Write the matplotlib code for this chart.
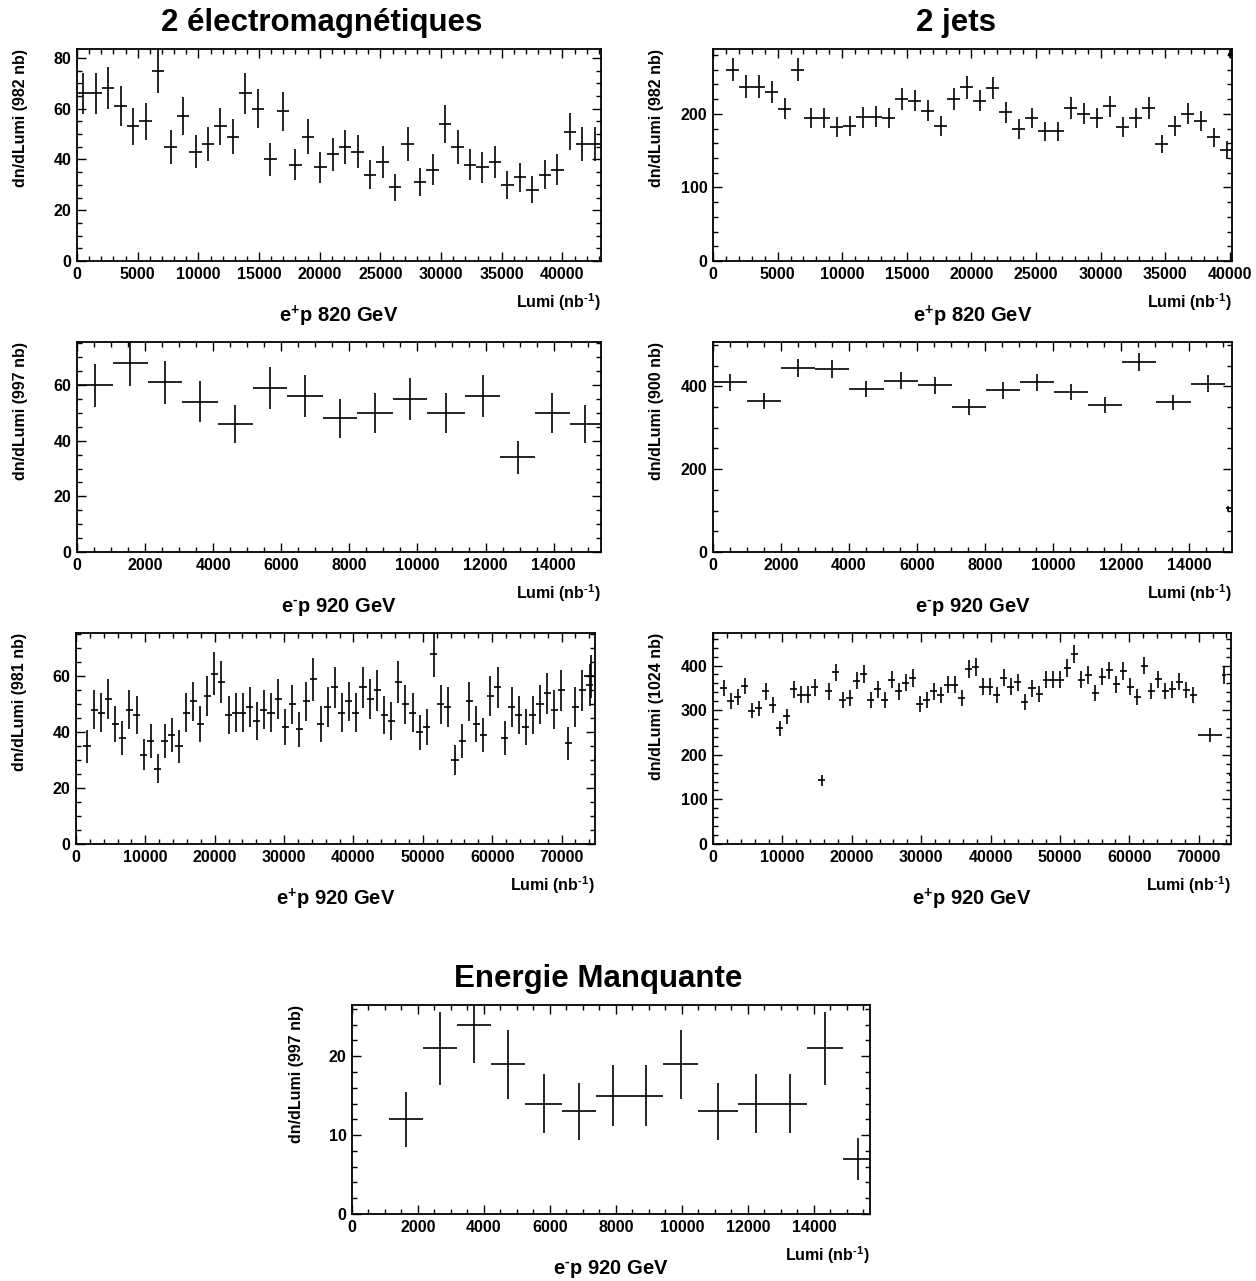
import numpy as np
import matplotlib
matplotlib.use("Agg")
import matplotlib.pyplot as plt
from matplotlib.ticker import MultipleLocator

plt.rcParams['font.family'] = ['Liberation Sans', 'DejaVu Sans']
plt.rcParams['font.weight'] = 'bold'
plt.rcParams['mathtext.fontset'] = 'custom'
plt.rcParams['mathtext.rm'] = 'Liberation Sans:bold'
plt.rcParams['mathtext.it'] = 'Liberation Sans:bold'
plt.rcParams['mathtext.bf'] = 'Liberation Sans:bold'
plt.rcParams['mathtext.default'] = 'rm'

# ---------------- data ----------------
# 2 electromagnetiques, e+p 820 GeV (regular bins)
em820_binw = 1028
em820_y = [66, 66, 68, 61, 53, 55, 75, 45, 57, 43, 46, 53, 49, 66, 60, 40, 59, 38,
           49, 37, 42, 45, 43, 34, 39, 29, 46, 31, 36, 54, 45, 38, 37, 39, 30, 33,
           28, 34, 36, 51, 46, 46]

# 2 jets, e+p 820 GeV (regular bins, first bin empty)
jets820_binw = 1006
jets820_first_bin = 1
jets820_y = [260, 237, 237, 230, 207, 260, 194, 194, 182, 184, 195, 196, 194, 220,
             218, 204, 183, 220, 236, 218, 235, 202, 179, 194, 176, 176, 208, 200,
             194, 210, 182, 194, 208, 159, 184, 200, 190, 168, 151]
jets820_extra_x = [39975]
jets820_extra_y = [281]
jets820_extra_xerr = [150]
jets820_extra_yerr = [5.5]

# 2 electromagnetiques, e-p 920 GeV (bin edges)
em920m_edges = [0, 1056, 2076, 3097, 4129, 5161, 6182, 7214, 8234, 9267, 10287,
                11402, 12434, 13454, 14475, 15390]
em920m_y = [60, 68, 61, 54, 46, 59, 56, 48, 50, 55, 50, 56, 34, 50, 46]

# 2 jets, e-p 920 GeV (bin edges) + small last bin
jets920m_edges = [0, 1003, 2006, 3009, 4012, 5015, 6018, 7021, 8024, 9027, 10030,
                  11033, 12036, 13039, 14042, 15045]
jets920m_y = [410, 364, 444, 442, 394, 414, 402, 350, 390, 410, 386, 355, 458, 361, 406]
jets920m_extra_x = [15150]
jets920m_extra_y = [106]
jets920m_extra_xerr = [70]
jets920m_extra_yerr = [6]

# 2 electromagnetiques, e+p 920 GeV
em920p_x0 = 1584
em920p_binw = 1020.5
em920p_y = [35, 48, 47, 52, 43, 38, 48, 46, 32, 37, 27, 37, 39, 35, 47, 51, 43, 53,
            61, 58, 46, 47, 47, 49, 44, 48, 47, 52, 42, 50, 41, 51, 59, 43, 49, 56,
            47, 51, 47, 56, 52, 55, 46, 44, 58, 50, 47, 40, 42, 68, 50, 49, 30, 37,
            51, 43, 39, 53, 56, 38, 49, 46, 42, 46, 50, 54, 48, 55, 36, 49, 55, 57]
em920p_extra_x = [74300]
em920p_extra_y = [60]
em920p_extra_xerr = [1000]

# 2 jets, e+p 920 GeV
jets920p_x0 = 1541
jets920p_binw = 1010
jets920p_y = [350, 321, 330, 354, 299, 304, 342, 311, 259, 286, 347, 335, 335, 351,
              143, 342, 385, 323, 328, 366, 381, 323, 347, 323, 368, 342, 362, 372,
              313, 323, 342, 334, 357, 357, 327, 392, 396, 353, 353, 334, 373, 353,
              363, 319, 349, 336, 368, 368, 368, 394, 426, 368, 379, 338, 375, 389,
              358, 388, 353, 330, 400, 343, 369, 343, 347, 364, 345, 334]
jets920p_extra_x = [71600, 73606, 74600]
jets920p_extra_y = [245, 379, 155]
jets920p_extra_xerr = [1750, 300, 250]

# Energie Manquante, e-p 920 GeV (bin edges)
em_miss_edges = [1107, 2139, 3183, 4214, 5258, 6360, 7391, 8411, 9420, 10500,
                 11713, 12780, 13800, 14867, 15800]
em_miss_y = [12, 21, 24, 19, 14, 13, 15, 15, 19, 13, 14, 14, 21, 7]

LUMI_LABEL = r'Lumi (nb$^{\text{-1}}$)'
EP_PLUS_820 = 'e$^{+}$p 820 GeV'
EP_PLUS_920 = 'e$^{+}$p 920 GeV'
EP_MINUS_920 = r'e$^{\text{-}}$p 920 GeV'

# ---------------- figure ----------------
W, H = 1256, 1281
fig = plt.figure(figsize=(W / 100, H / 100), dpi=100)


def add_axes(l, r, t, b):
    return fig.add_axes([l / W, 1 - b / H, (r - l) / W, (b - t) / H])


def style(ax, xlim, ylim, xmaj, xmin, ymaj, ymin):
    ax.set_xlim(*xlim)
    ax.set_ylim(*ylim)
    ax.xaxis.set_major_locator(MultipleLocator(xmaj))
    ax.xaxis.set_minor_locator(MultipleLocator(xmin))
    ax.yaxis.set_major_locator(MultipleLocator(ymaj))
    ax.yaxis.set_minor_locator(MultipleLocator(ymin))
    ax.tick_params(which='both', direction='in', top=True, right=True,
                   labelsize=11.5, width=1.0, colors='black')
    ax.tick_params(which='major', length=6.5, pad=4)
    ax.tick_params(which='minor', length=3.3)
    for lab in ax.get_xticklabels() + ax.get_yticklabels():
        lab.set_fontweight('bold')
    for s in ax.spines.values():
        s.set_linewidth(1.3)


def draw(ax, x, y, xerr, yerr):
    ax.errorbar(x, y, xerr=xerr, yerr=yerr, fmt='none', ecolor='black',
                elinewidth=1.2, capsize=0)


def labels(ax, box, ylab, sub):
    l, r, t, b = box
    fig.text((l - 56) / W, 1 - t / H, ylab, rotation=90, ha='center', va='top',
             fontsize=11.5, fontweight='bold')
    fig.text(r / W, 1 - (b + 41) / H, LUMI_LABEL, ha='right', va='center',
             fontsize=11.5, fontweight='bold')
    fig.text((l + r) / 2 / W, 1 - (b + 55) / H, sub, ha='center', va='center',
             fontsize=14.5, fontweight='bold')


# Panel 1
box1 = (77, 601, 49, 261)
ax1 = add_axes(*box1)
y = np.array(em820_y, float)
x = (np.arange(len(y)) + 0.5) * em820_binw
draw(ax1, x, y, em820_binw / 2, np.sqrt(y))
style(ax1, (0, len(y) * em820_binw), (0, 83.5), 5000, 1000, 20, 5)
labels(ax1, box1, 'dn/dLumi (982 nb)', EP_PLUS_820)
fig.text(322 / W, 1 - 23 / H, '2 électromagnétiques', ha='center', va='center',
         fontsize=22.5, fontweight='bold')

# Panel 2
box2 = (713, 1232, 49, 261)
ax2 = add_axes(*box2)
y = np.array(jets820_y, float)
x = (np.arange(len(y)) + jets820_first_bin + 0.5) * jets820_binw
draw(ax2, x, y, jets820_binw / 2, np.sqrt(y))
draw(ax2, jets820_extra_x, jets820_extra_y, jets820_extra_xerr, jets820_extra_yerr)
style(ax2, (0, 40160), (0, 288), 5000, 1000, 100, 20)
labels(ax2, box2, 'dn/dLumi (982 nb)', EP_PLUS_820)
fig.text(956 / W, 1 - 23 / H, '2 jets', ha='center', va='center',
         fontsize=22.5, fontweight='bold')

# Panel 3
box3 = (77, 601, 342, 552)
ax3 = add_axes(*box3)
e = np.array(em920m_edges, float)
y = np.array(em920m_y, float)
draw(ax3, (e[:-1] + e[1:]) / 2, y, np.diff(e) / 2, np.sqrt(y))
style(ax3, (0, 15390), (0, 75.5), 2000, 500, 20, 5)
labels(ax3, box3, 'dn/dLumi (997 nb)', EP_MINUS_920)

# Panel 4
box4 = (713, 1232, 342, 552)
ax4 = add_axes(*box4)
e = np.array(jets920m_edges, float)
y = np.array(jets920m_y, float)
draw(ax4, (e[:-1] + e[1:]) / 2, y, np.diff(e) / 2, np.sqrt(y))
draw(ax4, jets920m_extra_x, jets920m_extra_y, jets920m_extra_xerr, jets920m_extra_yerr)
style(ax4, (0, 15262), (0, 507), 2000, 500, 200, 50)
labels(ax4, box4, 'dn/dLumi (900 nb)', EP_MINUS_920)

# Panel 5
box5 = (76, 595, 633, 844)
ax5 = add_axes(*box5)
y = np.array(em920p_y, float)
x = em920p_x0 + np.arange(len(y)) * em920p_binw
draw(ax5, x, y, em920p_binw / 2, np.sqrt(y))
ye = np.array(em920p_extra_y, float)
draw(ax5, em920p_extra_x, ye, em920p_extra_xerr, np.sqrt(ye))
style(ax5, (0, 74830), (0, 75.5), 10000, 2000, 20, 5)
labels(ax5, box5, 'dn/dLumi (981 nb)', EP_PLUS_920)

# Panel 6
box6 = (713, 1231, 633, 844)
ax6 = add_axes(*box6)
y = np.array(jets920p_y, float)
x = jets920p_x0 + np.arange(len(y)) * jets920p_binw
draw(ax6, x, y, jets920p_binw / 2, np.sqrt(y))
ye = np.array(jets920p_extra_y, float)
draw(ax6, jets920p_extra_x, ye, jets920p_extra_xerr, np.sqrt(ye))
style(ax6, (0, 74665), (0, 473), 10000, 2000, 100, 20)
labels(ax6, box6, 'dn/dLumi (1024 nb)', EP_PLUS_920)

# Panel 7
box7 = (352, 870, 1005, 1214)
ax7 = add_axes(*box7)
e = np.array(em_miss_edges, float)
y = np.array(em_miss_y, float)
draw(ax7, (e[:-1] + e[1:]) / 2, y, np.diff(e) / 2, np.sqrt(y))
style(ax7, (0, 15700), (0, 26.5), 2000, 500, 10, 2)
labels(ax7, box7, 'dn/dLumi (997 nb)', EP_MINUS_920)
fig.text(598 / W, 1 - 979 / H, 'Energie Manquante', ha='center', va='center',
         fontsize=22.5, fontweight='bold')

fig.savefig('out.png', dpi=100, facecolor='white')
